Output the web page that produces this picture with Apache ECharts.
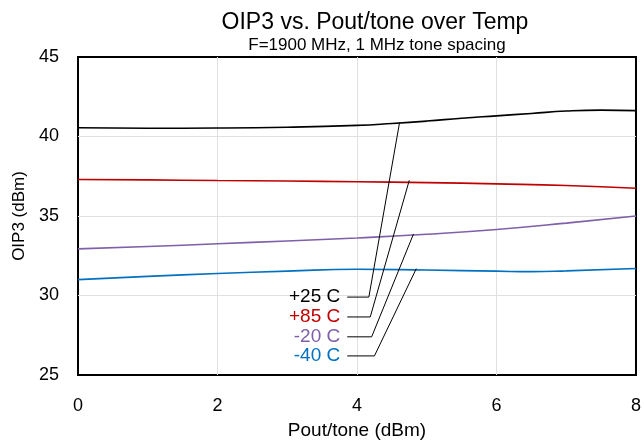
<!DOCTYPE html>
<html lang="en">
<head>
    <meta charset="UTF-8">
    <title>OIP3 vs. Pout/tone over Temp</title>
    <script src="https://cdn.jsdelivr.net/npm/echarts@6/dist/echarts.min.js"></script>
    <style>
        html, body { margin: 0; padding: 0; background: #fff; }
        #chart { width: 644px; height: 445px; }
    </style>
</head>
<body>
<div id="chart"></div>
<script type="text/javascript">
    // Pout/tone (dBm) vs OIP3 (dBm)
    var p25 = [[0, 40.55], [1, 40.52], [2, 40.53], [3, 40.58], [4, 40.7], [4.5, 40.82], [5, 40.97],
               [5.5, 41.15], [6, 41.3], [6.5, 41.45], [7, 41.6], [7.5, 41.66], [8, 41.63]];
    var p85 = [[0, 37.3], [1, 37.27], [2, 37.23], [3, 37.2], [4, 37.15], [5, 37.1], [6, 37.02],
               [7, 36.92], [8, 36.75]];
    var m20 = [[0, 32.93], [1, 33.08], [2, 33.25], [3, 33.43], [4, 33.62], [5, 33.85], [6, 34.15],
               [7, 34.55], [8, 35.0]];
    var m40 = [[0, 31.0], [1, 31.2], [2, 31.38], [3, 31.53], [4, 31.65], [5, 31.6], [6, 31.53],
               [6.5, 31.5], [7, 31.55], [8, 31.7]];

    var names = ['+25 C', '+85 C', '-20 C', '-40 C'];
    var colors = ['#000000', '#c00000', '#7f5fa8', '#0070c0'];
    // leader lines: label anchor -> elbow -> point on curve
    var leaders = [
        [[3.86, 29.9], [4.17, 29.9], [4.61, 40.87]],
        [[3.86, 28.65], [4.19, 28.65], [4.75, 37.25]],
        [[3.86, 27.4], [4.21, 27.4], [4.81, 33.87]],
        [[3.86, 26.2], [4.25, 26.2], [4.85, 31.69]]
    ];

    var chart = echarts.init(document.getElementById('chart'));
    var font = 'Liberation Sans, Arial, sans-serif';

    var series = [];
    [p25, p85, m20, m40].forEach(function (d, i) {
        series.push({
            name: names[i],
            type: 'line',
            smooth: true,
            symbol: 'none',
            data: d,
            lineStyle: { color: colors[i], width: 1.6 },
            z: 3
        });
    });
    leaders.forEach(function (d, i) {
        series.push({
            type: 'line',
            symbol: 'none',
            data: d,
            lineStyle: { color: '#000', width: 1 },
            markPoint: {
                symbol: 'circle',
                symbolSize: 0,
                data: [{ coord: d[0] }],
                label: {
                    show: true,
                    position: 'left',
                    distance: 7,
                    formatter: names[i],
                    color: colors[i],
                    fontSize: 19,
                    fontFamily: font
                }
            },
            z: 4
        });
    });

    var option = {
        animation: false,
        title: [{
            text: 'OIP3 vs. Pout/tone over Temp',
            left: 370,
            textAlign: 'center',
            top: 6,
            textStyle: { fontFamily: font, fontSize: 23, fontWeight: 'normal', color: '#000' }
        }, {
            text: 'F=1900 MHz, 1 MHz tone spacing',
            left: 372,
            textAlign: 'center',
            top: 32,
            textStyle: { fontFamily: font, fontSize: 17, fontWeight: 'normal', color: '#000' }
        }],
        grid: {
            left: 78, right: 7, top: 57, bottom: 68,
            show: true,
            borderColor: '#000',
            borderWidth: 2
        },
        xAxis: {
            type: 'value',
            min: 0, max: 8, interval: 2,
            name: 'Pout/tone (dBm)',
            nameLocation: 'middle',
            nameGap: 46,
            nameTextStyle: { fontFamily: font, fontSize: 19, color: '#000' },
            axisLine: { show: false },
            axisTick: { show: false },
            axisLabel: { fontFamily: font, fontSize: 18, color: '#000', margin: 22 },
            splitLine: { showMinLine: false, showMaxLine: false, lineStyle: { color: '#e0e0e0', width: 1 } }
        },
        yAxis: {
            type: 'value',
            min: 25, max: 45, interval: 5,
            name: 'OIP3 (dBm)',
            nameLocation: 'middle',
            nameGap: 50,
            nameTextStyle: { fontFamily: font, fontSize: 17, color: '#000' },
            axisLine: { show: false },
            axisTick: { show: false },
            axisLabel: { fontFamily: font, fontSize: 18, color: '#000', margin: 19 },
            splitLine: { showMinLine: false, showMaxLine: false, lineStyle: { color: '#e0e0e0', width: 1 } }
        },
        series: series
    };
    chart.setOption(option);
</script>
</body>
</html>
